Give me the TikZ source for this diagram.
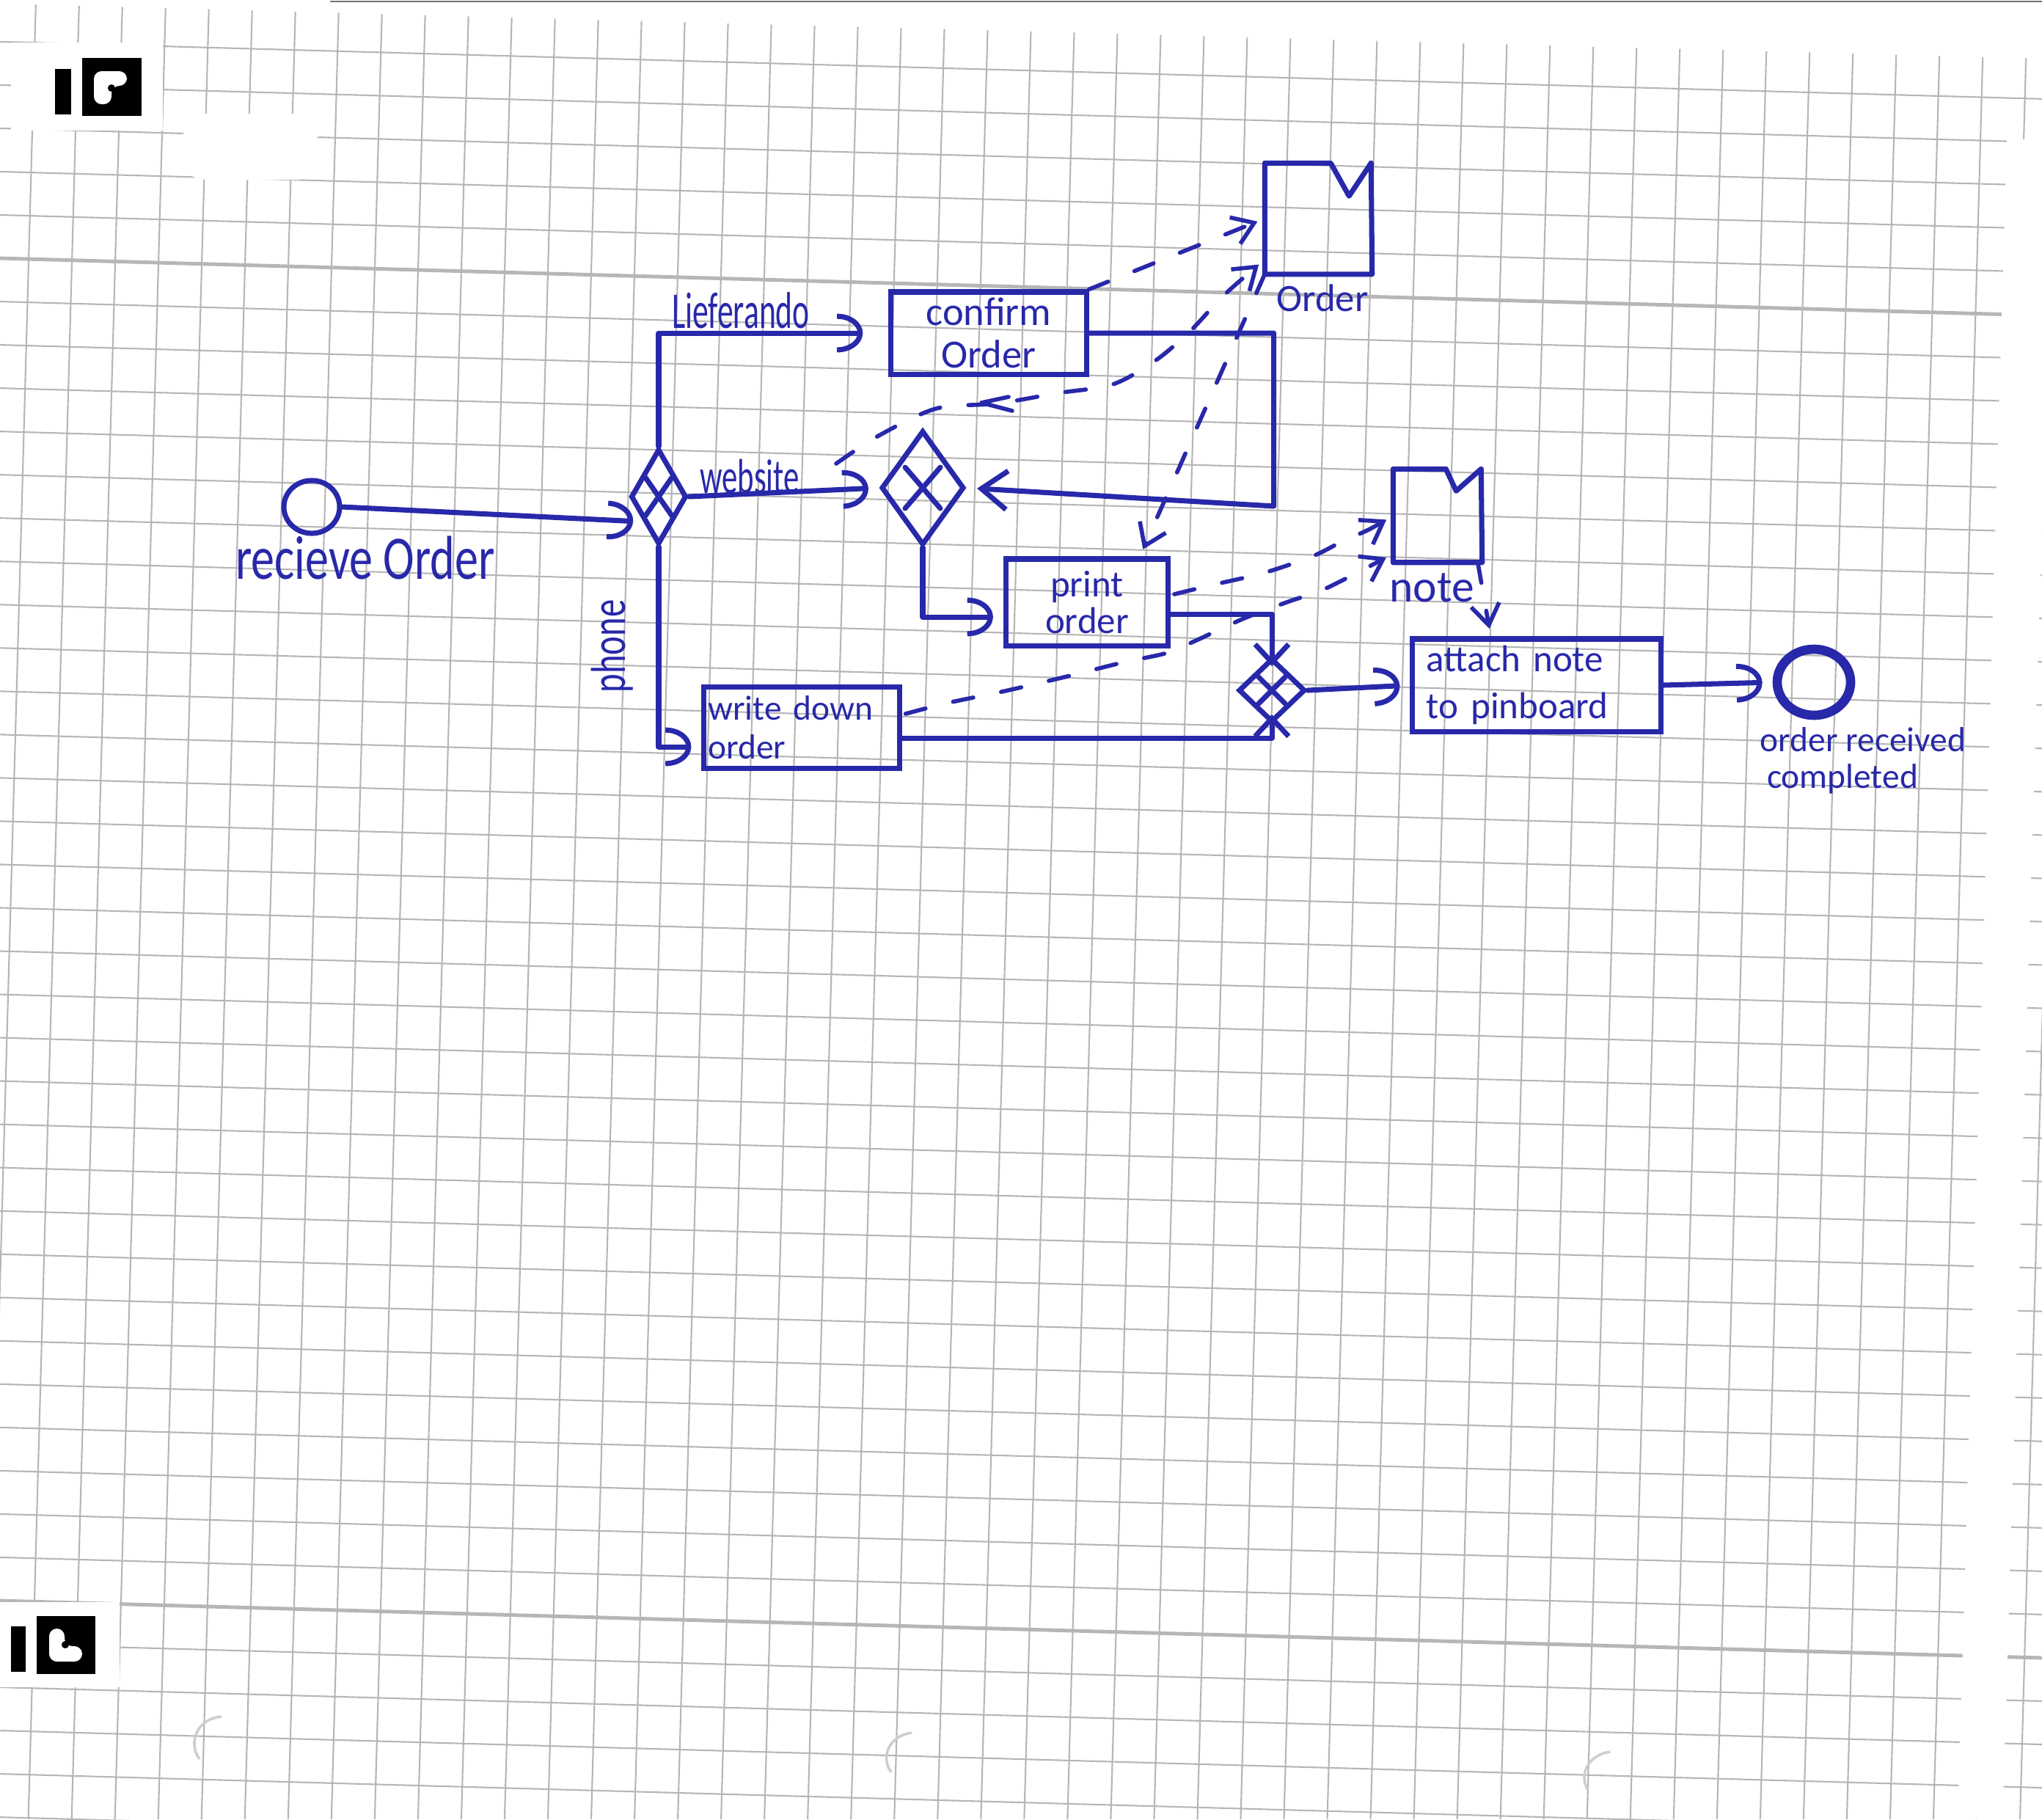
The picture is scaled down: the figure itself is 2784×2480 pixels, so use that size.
\documentclass[tikz,border=0pt]{standalone}
\usepackage{fontspec}
\setmainfont{Carlito}
\usepackage{graphicx}
\usetikzlibrary{shapes.geometric,arrows.meta,calc}
\definecolor{pen}{RGB}{40,40,170}
\definecolor{gridc}{RGB}{182,182,182}
\definecolor{holec}{RGB}{205,205,205}
\newcommand\sx[2]{\scalebox{#1}[1]{#2}}
\begin{document}
\begin{tikzpicture}[x=0.01cm, y=-0.01cm,
  penl/.style={draw=pen, line width=2pt, line cap=round, line join=round},
  flowA/.style={penl, -{Arc Barb[length=10pt,width=15pt]}, shorten >=4pt},
  flowS/.style={penl, -{Straight Barb[length=10pt,width=15pt]}, shorten >=4pt},
  flowT/.style={penl, -{Straight Barb[length=7pt,width=13pt]}},
  assoc/.style={draw=pen, line width=1.6pt, line cap=round, dash pattern=on 8pt off 11pt, -{Straight Barb[length=8pt,width=11pt]}, shorten >=3pt},
  task/.style={draw=pen, line width=2pt, rectangle, inner sep=0pt, text=pen, align=center},
  gate/.style={draw=pen, line width=2pt, diamond, inner sep=0pt},
  lbl/.style={text=pen, inner sep=0pt},
  gridl/.style={draw=gridc, line width=0.6pt},
  gridh/.style={draw=gridc, line width=1.4pt}]
\useasboundingbox (0,0) rectangle (2784,2480);
\fill[white] (0,0) rectangle (2784,2480);
% graph paper
\foreach \k in {-1,...,47}{\draw[gridl] ({49+59.03*\k},0) -- ({49+59.03*\k-69.4},2480);}
\foreach \k in {-7,...,36}{\draw[gridl] (0,{352+59.03*\k}) -- (2784,{352+59.03*\k+78});}
\draw[gridh] (0,352) -- (2784,430);
\draw[gridh] (0,2182) -- (2784,2260);
% paper edges and blank patches
\fill[white] (0,0) -- (2784,0) -- (2784,80) -- (0,5) -- cycle;
\draw[black!55, line width=0.8pt] (450,2) -- (2784,2);
\fill[white] (2736,190) -- (2800,190) -- (2730,2480) -- (2669,2480) -- cycle;
\fill[white] (15,58) rectangle (222,178);
\fill[white] (0,2184) rectangle (163,2300);
\fill[white, rounded corners=8pt] (250,155) rectangle (433,245);
% logos
\fill[black] (75,94) rectangle (97,156);
\fill[black] (112,79) rectangle (193,158);
\fill[white, rounded corners=3pt] (128,97) -- (173,97) -- (173,117) -- (152,117) -- (152,142) -- (128,142) -- cycle;
\fill[black] (152,120) circle[radius=0.05cm];
\fill[black] (15,2217) rectangle (35,2279);
\fill[black] (50,2203) rectangle (130,2282);
\fill[white, rounded corners=3pt] (67,2220) -- (88,2220) -- (88,2244) -- (112,2244) -- (112,2265) -- (67,2265) -- cycle;
\fill[black] (89,2242) circle[radius=0.05cm];
% punch holes
\draw[holec, line width=1pt] (302,2340) .. controls (270,2342) and (255,2375) .. (272,2398);
\draw[holec, line width=1pt] (1243,2362) .. controls (1212,2366) and (1200,2395) .. (1215,2416);
\draw[holec, line width=1pt] (2195,2388) .. controls (2165,2392) and (2152,2420) .. (2165,2440);

% ---- diagram ----
\node[draw=pen, line width=2pt, ellipse, minimum width=0.76cm, minimum height=0.72cm, inner sep=0pt] (start) at (425,691) {};
\node[lbl, font=\fontsize{24pt}{24pt}\selectfont] (startlbl) at (498,760) {\sx{0.76}{recieve Order}};

\node[gate, minimum width=0.76cm, minimum height=1.30cm] (gw1) at (898,677) {};
\node[gate, minimum width=1.13cm, minimum height=1.56cm] (gw2) at (1258,665) {};
\node[gate, minimum width=0.91cm, minimum height=0.87cm] (gw3) at (1734,941) {};
\draw[penl] ([shift={(-18,-26)}]gw1.center) -- ([shift={(18,26)}]gw1.center)
            ([shift={(18,-26)}]gw1.center) -- ([shift={(-18,26)}]gw1.center);
\draw[penl] ([shift={(-24,-28)}]gw2.center) -- ([shift={(24,28)}]gw2.center)
            ([shift={(24,-28)}]gw2.center) -- ([shift={(-24,28)}]gw2.center);
\draw[penl] ([shift={(-18,-18)}]gw3.center) -- ([shift={(18,18)}]gw3.center)
            ([shift={(18,-18)}]gw3.center) -- ([shift={(-18,18)}]gw3.center);

\node[task, minimum width=2.66cm, minimum height=1.12cm, font=\fontsize{15.5pt}{16.5pt}\selectfont] (confirm) at (1348,454) {confirm\\Order};
\node[task, minimum width=2.21cm, minimum height=1.18cm, font=\fontsize{14.5pt}{14pt}\selectfont] (print) at (1482,821) {print\\order};
\node[task, minimum width=2.66cm, minimum height=1.11cm, text width=2.55cm, align=left, font=\fontsize{13.5pt}{15pt}\selectfont] (write) at (1093,992) {write down\\order};
\node[task, minimum width=3.38cm, minimum height=1.26cm, text width=3.0cm, align=left, font=\fontsize{14.5pt}{18pt}\selectfont] (attach) at (2095,934) {attach note\\to pinboard};

\node[draw=pen, line width=3.6pt, ellipse, minimum width=1.0cm, minimum height=0.9cm, inner sep=0pt] (end) at (2473,930) {};
\node[lbl, font=\fontsize{13.5pt}{13.5pt}\selectfont] (endlbl1) at (2540,1008) {order received};
\node[lbl, font=\fontsize{13.5pt}{13.5pt}\selectfont] (endlbl2) at (2512,1062) {completed};

% data objects
\node[minimum width=1.45cm, minimum height=1.50cm, inner sep=0pt] (orderobj) at (1797.5,298) {};
\draw[penl] (orderobj.north west) -- ++(90,0) -- ++(25,45) -- ++(30,-45) -- (orderobj.south east) -- (orderobj.south west) -- cycle;
\node[lbl, font=\fontsize{15pt}{15pt}\selectfont] (orderlbl) at (1803,406) {Order};
\node[minimum width=1.2cm, minimum height=1.26cm, inner sep=0pt] (note) at (1960,703) {};
\draw[penl] (note.north west) -- ++(72,0) -- ++(14,30) -- ++(34,-30) -- (note.south east) -- (note.south west) -- cycle;
\node[lbl, font=\fontsize{17.5pt}{17.5pt}\selectfont] (notelbl) at (1952,801) {note};

% labels on flows
\node[lbl, font=\fontsize{20pt}{20pt}\selectfont] (lief) at (1010,423) {\sx{0.62}{Lieferando}};
\node[lbl, font=\fontsize{19pt}{19pt}\selectfont] (web) at (1022,650) {\sx{0.64}{website}};
\node[lbl, rotate=90, font=\fontsize{19pt}{19pt}\selectfont] (phone) at (835,881) {\sx{0.73}{phone}};

% sequence flows
\draw[flowA] (start.east) -- (gw1.south west);
\draw[flowA] (gw1.east) -- (gw2.west);
\draw[flowA, shorten >=10pt] (gw1.north) |- (confirm.west);
\draw[flowA] (gw1.south) |- ($(write.west)+(0,26)$);
\draw[flowA] (gw2.south) |- ($(print.west)+(0,20)$);
\draw[flowS] (confirm.east) -- ++(252,0) -- ++(0,236) -- (gw2.east);
\draw[flowT] ($(print.east)+(0,16)$) -| ([yshift=-4pt]gw3.north);
\draw[flowT] ($(write.east)+(0,14)$) -| ([yshift=4pt]gw3.south);
\draw[flowA] (gw3.east) -- (attach.west);
\draw[flowA] (attach.east) -- (end.west);

% data associations
\coordinate (webmark) at (1140,632);
\coordinate (o2) at ($(orderobj.south west)+(0,-20)$);
\coordinate (p1) at ($(print.east)+(5,-11)$);
\coordinate (w1) at ($(write.east)+(5,-19)$);
\coordinate (n2) at ($(note.west)+(0,52)$);
\draw[assoc] (confirm.north east) -- (orderobj.west);
\draw[assoc] (orderobj.south west) -- ($(print.north east)+(-42,0)$);
\draw[assoc] plot[smooth, tension=0.5] coordinates {(webmark) (1196,595) (1276,557) (1360,550) (1441,536) (1517,524) (1576,491) (1624,450) (1668,403) (o2)};
\draw[penl, line width=1.6pt] (1375,541) -- (1338,549) -- (1380,560);
\draw[assoc] plot[smooth, tension=0.5] coordinates {(p1) (1650,798) (1723,781) (1790,758) (1830,738) (1866,722) (note.west)};
\draw[assoc] plot[smooth, tension=0.5] coordinates {(w1) (1293,958) (1370,942) (1451,923) (1531,903) (1591,890) (1633,872) (1696,843) (1757,820) (1808,802) (n2)};
\draw[assoc] ($(note.south east)+(-6,0)$) -- ($(attach.north west)+(110,0)$);
\end{tikzpicture}
\end{document}
